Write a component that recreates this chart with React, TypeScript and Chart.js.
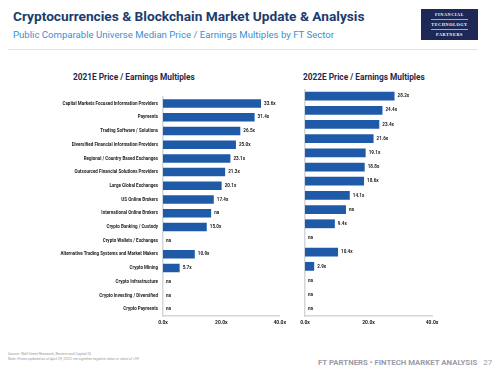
import React, { useEffect, useRef } from "react";
import { Chart, registerables } from "chart.js";
Chart.register(...registerables);

const categories = [
  "Capital Markets Focused Information Providers",
  "Payments",
  "Trading Software / Solutions",
  "Diversified Financial Information Providers",
  "Regional / Country Based Exchanges",
  "Outsourced Financial Solutions Providers",
  "Large Global Exchanges",
  "US Online Brokers",
  "International Online Brokers",
  "Crypto Banking / Custody",
  "Crypto Wallets / Exchanges",
  "Alternative Trading Systems and Market Makers",
  "Crypto Mining",
  "Crypto Infrastructure",
  "Crypto Investing / Diversified",
  "Crypto Payments",
];
const values2021: (number | null)[] = [33.6, 31.4, 26.5, 25.0, 23.1, 21.3, 20.1, 17.4, 16.5, 15.0, null, 10.9, 5.7, null, null, null];
const labels2021 = ["33.6x", "31.4x", "26.5x", "25.0x", "23.1x", "21.3x", "20.1x", "17.4x", "na", "15.0x", "na", "10.9x", "5.7x", "na", "na", "na"];
const values2022: (number | null)[] = [28.2, 24.4, 23.4, 21.6, 19.1, 18.8, 18.6, 14.1, 12.9, 9.4, null, 10.4, 2.9, null, null, null];
const labels2022 = ["28.2x", "24.4x", "23.4x", "21.6x", "19.1x", "18.8x", "18.6x", "14.1x", "na", "9.4x", "na", "10.4x", "2.9x", "na", "na", "na"];
const xTicks = [0, 20, 40];

const BAR = "#1f5aa8";
const AXIS = "#d3d6db";

function makeLabelPlugin(texts: string[]) {
  return {
    id: "valLabels",
    afterDatasetsDraw(chart: any) {
      const ctx = chart.ctx;
      const meta = chart.getDatasetMeta(0);
      const xs = chart.scales.x;
      ctx.save();
      ctx.font = "bold 4.6px Roboto";
      ctx.fillStyle = "#222";
      ctx.textBaseline = "middle";
      ctx.textAlign = "left";
      meta.data.forEach((bar: any, i: number) => {
        const v = chart.data.datasets[0].data[i];
        const x = v == null ? xs.getPixelForValue(0) + 3 : bar.x + 3;
        ctx.fillText(texts[i], x, bar.y);
      });
      ctx.restore();
    },
  };
}

function BarChart(props: { values: (number | null)[]; texts: string[]; showCats: boolean; yWidth: number; padRight: number; style: React.CSSProperties }) {
  const ref = useRef<HTMLCanvasElement>(null);
  useEffect(() => {
    const chart = new Chart(ref.current!, {
      type: "bar",
      data: {
        labels: categories,
        datasets: [
          {
            data: props.values as any,
            backgroundColor: BAR,
            barPercentage: 0.62,
            categoryPercentage: 1,
          },
        ],
      },
      options: {
        indexAxis: "y",
        animation: false,
        responsive: false,
        maintainAspectRatio: false,
        layout: { padding: { top: 0, right: props.padRight, left: 0, bottom: 0 } },
        plugins: { legend: { display: false }, tooltip: { enabled: false } },
        scales: {
          x: {
            min: 0,
            max: 40,
            afterBuildTicks: (s: any) => {
              s.ticks = xTicks.map((v) => ({ value: v }));
            },
            grid: { display: false, drawTicks: false },
            border: { color: AXIS, width: 1.5 },
            ticks: {
              padding: 4,
              font: { size: 5, weight: "bold", family: "Roboto" },
              color: "#222",
              callback: (v: any) => Number(v).toFixed(1) + "x",
              maxRotation: 0,
            },
          },
          y: {
            afterFit: (s: any) => {
              s.width = props.yWidth;
            },
            grid: { display: false, drawTicks: false },
            border: { color: AXIS, width: 1.5 },
            ticks: {
              display: props.showCats,
              padding: 5,
              font: { size: 4.5, weight: "bold", family: "Roboto" },
              color: "#222",
              autoSkip: false,
            },
          },
        },
      },
      plugins: [makeLabelPlugin(props.texts)],
    });
    return () => chart.destroy();
  }, []);
  return <canvas ref={ref} width={props.style.width as number} height={props.style.height as number} style={props.style} />;
}

export default function App() {
  return (
    <div style={{ position: "fixed", left: 0, top: 0, width: 503, height: 384, background: "#fff", fontFamily: "Roboto", overflow: "hidden" }}>
      <div style={{ position: "absolute", left: 13, top: 8, fontSize: 13.7, fontWeight: 700, color: "#1c3c6e", whiteSpace: "nowrap" }}>
        Cryptocurrencies &amp; Blockchain Market Update &amp; Analysis
      </div>
      <div style={{ position: "absolute", left: 13, top: 29, fontSize: 9.6, color: "#3a8fd0", whiteSpace: "nowrap" }}>
        Public Comparable Universe Median Price / Earnings Multiples by FT Sector
      </div>
      <div style={{ position: "absolute", left: 421, top: 9, width: 57, height: 31, background: "#1d2856", color: "#fff", fontFamily: "Liberation Serif", fontWeight: 700, fontSize: 4.2, letterSpacing: 0.6, textAlign: "center", lineHeight: "1" }}>
        <div style={{ marginTop: 4 }}>FINANCIAL</div>
        <div style={{ margin: "2px 10px 0", borderTop: "0.5px solid #aab" }} />
        <div style={{ marginTop: 3 }}>TECHNOLOGY</div>
        <div style={{ margin: "2px 10px 0", borderTop: "0.5px solid #aab" }} />
        <div style={{ marginTop: 3 }}>PARTNERS</div>
      </div>
      <div style={{ position: "absolute", left: 8, top: 49, width: 470, height: 1, background: "#e1e3e8" }} />
      <div style={{ position: "absolute", left: 73, top: 72, fontSize: 8.3, fontWeight: 700, color: "#1e2a4f", whiteSpace: "nowrap" }}>
        2021E Price / Earnings Multiples
      </div>
      <div style={{ position: "absolute", left: 303, top: 72, fontSize: 8.3, fontWeight: 700, color: "#1e2a4f", whiteSpace: "nowrap" }}>
        2022E Price / Earnings Multiples
      </div>
      <BarChart values={values2021} texts={labels2021} showCats={true} yWidth={163} padRight={10} style={{ position: "absolute", left: 0, top: 89, width: 290, height: 241 }} />
      <BarChart values={values2022} texts={labels2022} showCats={false} yWidth={10} padRight={13} style={{ position: "absolute", left: 295, top: 89, width: 150, height: 241 }} />
      <div style={{ position: "absolute", left: 8, top: 352, fontSize: 3.6, color: "#999", lineHeight: "5px", whiteSpace: "nowrap" }}>
        <div>Source: Wall Street Research, Reuters and Capital IQ</div>
        <div style={{ fontStyle: "italic" }}>Note: Prices updated as of April 29, 2022; nm signifies negative value or value of &gt;99</div>
      </div>
      <div style={{ position: "absolute", left: 318, top: 358, fontSize: 7.8, fontWeight: 700, color: "#9a9bab", whiteSpace: "nowrap" }}>
        FT PARTNERS • FINTECH MARKET ANALYSIS
        <span style={{ fontWeight: 400, marginLeft: 6 }}>27</span>
      </div>
    </div>
  );
}
